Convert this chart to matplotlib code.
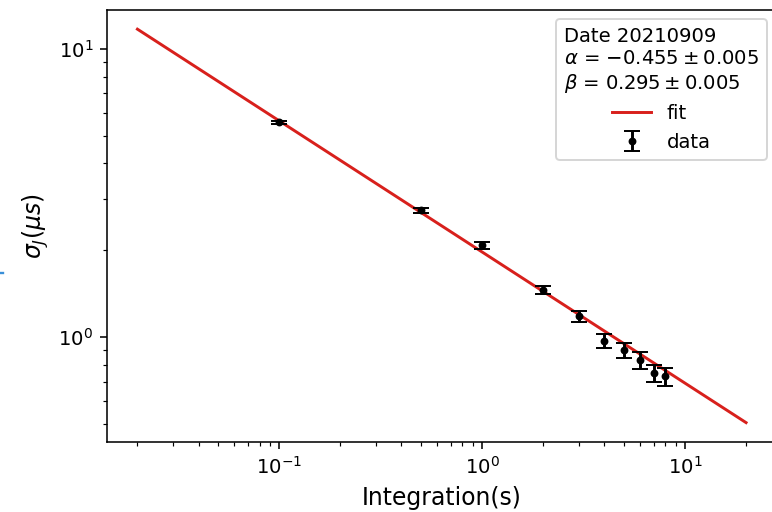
import numpy as np
import matplotlib
matplotlib.use("Agg")
import matplotlib.pyplot as plt
from matplotlib.lines import Line2D

# Data
integration = [0.1, 0.5, 1, 2, 3, 4, 5, 6, 7, 8]
sigma = [5.55, 2.75, 2.08, 1.46, 1.18, 0.97, 0.90, 0.83, 0.75, 0.73]
sigma_err = [0.05, 0.05, 0.055, 0.048, 0.055, 0.053, 0.055, 0.055, 0.052, 0.053]
alpha = -0.455
beta = 0.295
fit_range = [0.02, 20]
date_label = "Date 20210909"

DPI = 141
fig = plt.figure(figsize=(772 / DPI, 512 / DPI), dpi=DPI)
ax = fig.add_axes([107 / 772, (512 - 442.3) / 512, (776.5 - 107) / 772, (442.3 - 9.5) / 512])

xfit = np.logspace(np.log10(fit_range[0]), np.log10(fit_range[1]), 200)
yfit = 10 ** beta * xfit ** alpha
ax.plot(xfit, yfit, color='#d8201c', lw=1.5, label='fit')
ax.errorbar(integration, sigma, yerr=sigma_err, fmt='k.', capsize=4, label='data')
ax.set_xscale('log')
ax.set_yscale('log')

ax.set_xlabel('Integration(s)', fontsize=12)
ax.set_ylabel(r'$\sigma_J(\mu s)$', fontsize=12)

title = (date_label + "\n" + r"$\alpha$ = $-0.455 \pm 0.005$" + "\n"
         + r"$\beta$ = $0.295 \pm 0.005$")
leg = ax.legend(loc='upper right', title=title, fontsize=10, title_fontsize=10)
leg.get_title().set_multialignment('left')

# small blue artifact at left edge
fig.add_artist(Line2D([0, 2.5 / 772], [1 - 273 / 512, 1 - 273 / 512],
                      color='#3a8fd8', lw=1.2, transform=fig.transFigure))

fig.savefig('out.png', dpi=DPI)
